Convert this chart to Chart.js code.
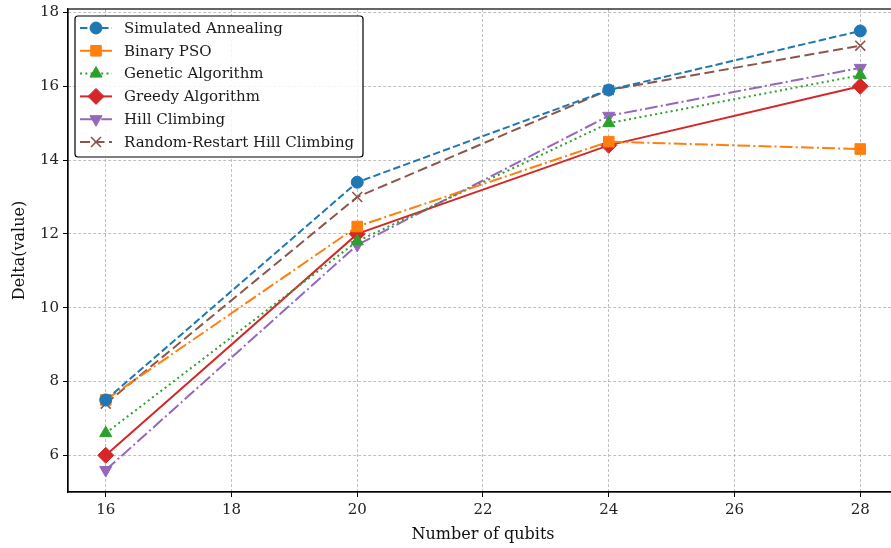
<!DOCTYPE html>
<html>
<head>
<meta charset="utf-8">
<script src="https://cdn.jsdelivr.net/npm/chart.js@4"></script>
<style>
  html, body { margin: 0; padding: 0; background: #fff; overflow: hidden; }
  #wrap { width: 891px; height: 548px; overflow: hidden; }
</style>
</head>
<body>
<div id="wrap"><canvas id="chart" width="907" height="548"></canvas></div>
<script>
const qubits = [16, 20, 24, 28];
const simulatedAnnealing = [7.5, 13.4, 15.9, 17.5];
const binaryPSO = [7.5, 12.2, 14.5, 14.3];
const geneticAlgorithm = [6.6, 11.8, 15.0, 16.3];
const greedyAlgorithm = [6.0, 12.0, 14.4, 16.0];
const hillClimbing = [5.6, 11.7, 15.2, 16.5];
const randomRestartHC = [7.4, 13.0, 15.9, 17.1];
const xTicks = [16, 18, 20, 22, 24, 26, 28];
const yTicks = [6, 8, 10, 12, 14, 16, 18];

const FONT = "'DejaVu Serif', serif";

function series(label, values, color, dash, style, radius, rotation) {
  return {
    label: label,
    data: qubits.map((q, i) => ({ x: q, y: values[i] })),
    borderColor: color,
    backgroundColor: color,
    borderWidth: 2,
    borderDash: dash,
    pointStyle: style,
    pointRadius: radius,
    pointRotation: rotation || 0,
    pointBorderWidth: style === "crossRot" ? 1.6 : 1,
    pointBorderColor: color,
    tension: 0,
  };
}

const datasets = [
  series("Simulated Annealing", simulatedAnnealing, "#1f77b4", [7.4, 3.2], "circle", 6),
  series("Binary PSO", binaryPSO, "#ff7f0e", [12.8, 3.2, 2, 3.2], "rect", 7.5),
  series("Genetic Algorithm", geneticAlgorithm, "#2ca02c", [2, 3.3], "triangle", 7),
  series("Greedy Algorithm", greedyAlgorithm, "#d62728", [], "rectRot", 8),
  series("Hill Climbing", hillClimbing, "#9467bd", [12.8, 3.2, 2, 3.2], "triangle", 7, 180),
  series("Random-Restart Hill Climbing", randomRestartHC, "#8c564b", [10, 4.5], "crossRot", 7),
];

const framePlugin = {
  id: "frame",
  afterDraw(chart) {
    const ctx = chart.ctx;
    const a = chart.chartArea;
    ctx.save();
    ctx.strokeStyle = "#000";
    ctx.lineWidth = 1.2;
    ctx.strokeRect(a.left, a.top, a.right - a.left, a.bottom - a.top);

    // legend box in the upper-left corner
    const bx = a.left + 7, by = a.top + 7, bw = 288, bh = 141;
    ctx.fillStyle = "rgba(255,255,255,0.85)";
    ctx.strokeStyle = "#000";
    ctx.lineWidth = 1.2;
    ctx.beginPath();
    ctx.roundRect(bx, by, bw, bh, 3);
    ctx.fill();
    ctx.stroke();
    ctx.font = "15px " + FONT;
    ctx.textBaseline = "middle";
    chart.data.datasets.forEach((ds, i) => {
      const cy = by + 12 + i * 22.8;
      ctx.save();
      ctx.strokeStyle = ds.borderColor;
      ctx.lineWidth = 2;
      ctx.setLineDash(ds.borderDash);
      ctx.beginPath();
      ctx.moveTo(bx + 5, cy);
      ctx.lineTo(bx + 37, cy);
      ctx.stroke();
      ctx.restore();
      ctx.save();
      ctx.fillStyle = ds.backgroundColor;
      ctx.strokeStyle = ds.borderColor;
      ctx.lineWidth = ds.pointBorderWidth;
      Chart.helpers.drawPoint(ctx, {
        pointStyle: ds.pointStyle,
        rotation: ds.pointRotation,
        radius: ds.pointRadius,
        borderWidth: ds.pointBorderWidth,
      }, bx + 21, cy);
      ctx.restore();
      ctx.fillStyle = "#1a1a1a";
      ctx.fillText(ds.label, bx + 49, cy + 1);
    });
    ctx.restore();
  },
};

new Chart(document.getElementById("chart"), {
  type: "line",
  data: { datasets: datasets },
  plugins: [framePlugin],
  options: {
    responsive: false,
    animation: false,
    layout: { padding: { top: 5, right: 0, left: 0, bottom: 0 } },
    plugins: { legend: { display: false }, tooltip: { enabled: false } },
    scales: {
      x: {
        type: "linear",
        min: 15.4,
        max: 28.6,
        afterBuildTicks: (s) => { s.ticks = xTicks.map((v) => ({ value: v })); },
        afterFit: (s) => { s.height = 56; s.paddingRight = 0; },
        ticks: { color: "#222", font: { family: FONT, size: 15 }, padding: 4, maxRotation: 0 },
        grid: { color: "#b0b0b0", lineWidth: 0.8, tickColor: "#000", tickLength: 5, tickWidth: 1, tickBorderDash: [] },
        border: { display: true, color: "#000", width: 1.2, dash: [3, 2] },
        title: { display: true, text: "Number of qubits", color: "#111", font: { family: FONT, size: 16 }, padding: { top: 2, bottom: 4 } },
      },
      y: {
        type: "linear",
        min: 5.005,
        max: 18.095,
        afterBuildTicks: (s) => { s.ticks = yTicks.map((v) => ({ value: v })); },
        afterFit: (s) => { s.width = 68; s.paddingTop = 0; },
        ticks: { color: "#222", font: { family: FONT, size: 15 }, padding: 4 },
        grid: { color: "#b0b0b0", lineWidth: 0.8, tickColor: "#000", tickLength: 5, tickWidth: 1, tickBorderDash: [] },
        border: { display: true, color: "#000", width: 1.2, dash: [3, 2] },
        title: { display: true, text: "Delta(value)", color: "#111", font: { family: FONT, size: 16 }, padding: { top: 10, bottom: 2 } },
      },
    },
  },
});
</script>
</body>
</html>
